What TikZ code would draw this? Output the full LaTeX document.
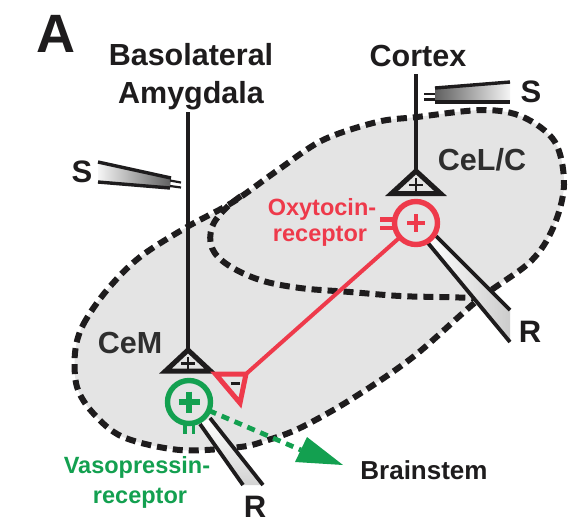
\documentclass[tikz,border=0pt]{standalone}
\usepackage{fontspec}
\setmainfont{Liberation Sans}
\definecolor{ink}{HTML}{1E1C1D}
\definecolor{darkink}{HTML}{2E2E2E}
\definecolor{oxred}{HTML}{EE3A4B}
\definecolor{vgreen}{HTML}{13A050}
\definecolor{regiongray}{HTML}{E4E4E4}
\tikzset{
  lbl/.style={anchor=base, inner sep=0pt, font=\fontsize{30.5}{30}\selectfont\bfseries, text=ink},
  sml/.style={anchor=base, inner sep=0pt, font=\fontsize{23.5}{23}\selectfont\bfseries},
  letter/.style={anchor=base, inner sep=0pt, font=\fontsize{31}{31}\selectfont\bfseries, text=ink},
  regionline/.style={ink, line width=6pt, dash pattern=on 10pt off 6pt},
  neuron/.style={line width=5pt, line join=miter},
  syn/.style={circle, draw, line width=5.4pt, minimum size=43pt, inner sep=0pt, outer sep=0pt},
  elec/.style={ink, line width=3.4pt},
}
\begin{document}
\begin{tikzpicture}[x=1pt,y=-1pt]
\useasboundingbox (0,0) rectangle (575,531);
\fill[white] (0,0) rectangle (575,531);

% ---- regions ----
\def\outerpts{(75,353) (83,325) (107,290) (140,257) (187,227) (233,202) (278,170) (323,140) (377,122) (417,117) (483,110) (523,117) (555,142) (564,185) (553,228) (530,262) (478,300) (413,357) (350,400) (300,428) (268,440) (240,447) (180,450) (123,437) (93,413) (77,387)}
\fill[regiongray] plot[smooth cycle, tension=0.55] coordinates {\outerpts};
\draw[regionline] plot[smooth cycle, tension=0.55] coordinates {\outerpts};
\draw[regionline] plot[smooth, tension=0.6] coordinates {(241,196) (225,209) (212,227) (212,248) (228,265) (260,280) (300,288) (350,292) (400,296) (440,297) (478,298)};

% ---- stimulation electrodes ----
\shade[left color=gray!8, right color=gray!75!black] (98,162) -- (171,178) -- (170,188) -- (98,182) -- cycle;
\draw[elec] (98,162) -- (171,178);
\draw[elec] (98,182) -- (170,188);
\draw[ink, line width=2.2pt] (170,180.5) -- (181,182.5);
\draw[ink, line width=2.2pt] (170,186) -- (181,187.5);

\shade[left color=gray!75!black, right color=gray!8] (435,88) -- (510,82) -- (510,102) -- (435,102) -- cycle;
\draw[elec] (435,88) -- (510,82);
\draw[elec] (435,102) -- (510,102);
\draw[ink, line width=2.2pt] (424,94) -- (435,94);
\draw[ink, line width=2.2pt] (424,99.5) -- (435,99.5);

% ---- recording electrodes ----
\shade[left color=white, right color=gray!40] (436,236) -- (510,310) -- (510,342) -- (428,243) -- cycle;
\draw[elec, line width=3.8pt] (436,236) -- (510,310);
\draw[elec, line width=3.8pt] (428,243) -- (510,342);

\shade[top color=white, bottom color=gray!35] (210,418) -- (263,485) -- (243,485) -- (200,424) -- cycle;
\draw[elec, line width=3.8pt] (210,418) -- (263,485);
\draw[elec, line width=3.8pt] (200,424) -- (243,485);

% ---- neurons ----
\coordinate (blatop) at (188,112);
\coordinate (cemapex) at (188,350);
\coordinate (cemR) at (210.5,371);
\coordinate (cemL) at (165.5,371);
\draw[ink, line width=4pt] (blatop) -- (cemapex);
\draw[ink, neuron] (cemapex) -- (cemR) -- (cemL) -- cycle;
\draw[ink, line width=2.8pt] (181,363.5) -- (195,363.5) (188,356.5) -- (188,370);

\coordinate (cortop) at (416,74);
\coordinate (celapex) at (416,171);
\coordinate (celR) at (440.5,193.5);
\coordinate (celL) at (391.5,193.5);
\draw[ink, line width=4pt] (cortop) -- (celapex);
\draw[ink, neuron] (celapex) -- (celR) -- (celL) -- cycle;
\draw[ink, line width=2.8pt] (409,185) -- (423,185) (416,178) -- (416,191.5);

% oxytocin receptor synapse
\node[syn, draw=oxred] (oxy) at (416,223) {};
\draw[oxred, line width=4.8pt] (407,223) -- (425,223) (416,214) -- (416,232);
\draw[oxred, line width=4.2pt] (380,219.5) -- (395,219.5) (380,228) -- (395,228);

% inhibitory terminal
\coordinate (rtL) at (215.5,374);
\coordinate (rtR) at (246,374);
\coordinate (rtB) at (240,403);
\draw[oxred, line width=4pt] (oxy) -- (rtR);
\draw[oxred, neuron] (rtL) -- (rtR) -- (rtB) -- cycle;
\draw[ink, line width=3.6pt] (230.5,383.5) -- (240,383.5);

% vasopressin receptor synapse
\node[syn, draw=vgreen] (vas) at (189,402) {};
\draw[vgreen, line width=5.2pt] (178.5,402) -- (199.5,402) (189,391.5) -- (189,412.5);
\draw[vgreen, line width=3.8pt] (185,422) -- (185,434) (193.5,422) -- (193.5,434);

% output to brainstem
\coordinate (arrbase) at (301,450);
\coordinate (arrtip) at (343,465);
\draw[vgreen, line width=4.8pt, dash pattern=on 8pt off 6pt] (vas) -- (arrbase);
\fill[vgreen] (295,462) -- (307,437) -- (arrtip) -- cycle;

% ---- labels ----
\node[anchor=base, inner sep=0pt, font=\fontsize{54}{54}\selectfont\bfseries, text=ink] (A) at (56,52) {A};
\node[lbl] (bla1) at (191,65) {Basolateral};
\node[lbl] (bla2) at (191,103) {Amygdala};
\node[lbl] (cortex) at (418,66) {Cortex};
\node[lbl, text=darkink] (cel) at (482,170) {CeL/C};
\node[lbl, text=darkink] (cem) at (130,353) {CeM};
\node[lbl, font=\fontsize{26}{26}\selectfont\bfseries] (brain) at (424,479) {Brainstem};
\node[sml, text=oxred] (oxy1) at (322,215) {Oxytocin-};
\node[sml, text=oxred] (oxy2) at (320,241) {receptor};
\node[sml, text=vgreen] (vas1) at (137,473) {Vasopressin-};
\node[sml, text=vgreen] (vas2) at (140,503) {receptor};
\node[letter] (s1) at (82,182) {S};
\node[letter] (s2) at (531,102) {S};
\node[letter] (r1) at (530,342) {R};
\node[letter] (r2) at (255,517) {R};
\end{tikzpicture}
\end{document}
